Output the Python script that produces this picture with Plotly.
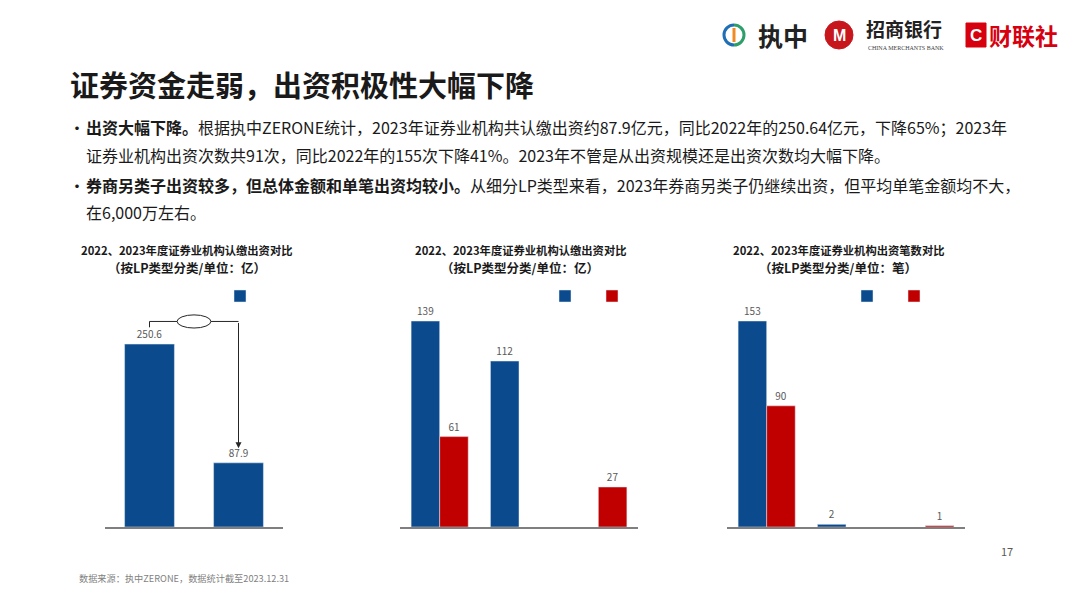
import plotly.graph_objects as go

# ---------------- data ----------------
years = ["2022年", "2023年"]
chart1_title = ["2022、2023年度证券业机构认缴出资对比", "（按LP类型分类/单位：亿）"]
chart1_values = [250.6, 87.9]

chart2_title = ["2022、2023年度证券业机构认缴出资对比", "（按LP类型分类/单位：亿）"]
lp_types = ["券商另类子", "券商直投子", "其他"]
chart2_2022 = [139, 112, None]
chart2_2023 = [61, None, 27]

chart3_title = ["2022、2023年度证券业机构出资笔数对比", "（按LP类型分类/单位：笔）"]
chart3_2022 = [153, 2, None]
chart3_2023 = [90, None, 1]

title_text = "证券资金走弱，出资积极性大幅下降"
bullet_lines = [
    ("<b>出资大幅下降。</b>根据执中ZERONE统计，2023年证券业机构共认缴出资约87.9亿元，同比2022年的250.64亿元，下降65%；2023年", True),
    ("证券业机构出资次数共91次，同比2022年的155次下降41%。2023年不管是从出资规模还是出资次数均大幅下降。", False),
    ("<b>券商另类子出资较多，但总体金额和单笔出资均较小。</b>从细分LP类型来看，2023年券商另类子仍继续出资，但平均单笔金额均不大，", True),
    ("在6,000万左右。", False),
]
source_text = "数据来源：执中ZERONE，数据统计截至2023.12.31"
page_no = "17"

BLUE = "#0B4A8C"
RED = "#C00000"
LABEL = "#595959"
FONT = "Noto Sans CJK SC"
W, H = 1080, 607


def px(x):
    return x / W


def py(y):
    return 1 - y / H


fig = go.Figure()

# ---------------- traces ----------------
fig.add_trace(go.Bar(
    x=years, y=chart1_values, name=" ", marker_color=BLUE, width=0.56,
    text=chart1_values, texttemplate="%{y:.1f}", textposition="outside",
    textfont=dict(color=LABEL, size=10, family=FONT), cliponaxis=False,
    xaxis="x", yaxis="y", legend="legend", hovertemplate="%{x}: %{y}<extra></extra>",
))

for xa, ya, lg, s22, s23 in [("x2", "y2", "legend2", chart2_2022, chart2_2023),
                             ("x3", "y3", "legend3", chart3_2022, chart3_2023)]:
    for vals, col, yr in [(s22, BLUE, years[0]), (s23, RED, years[1])]:
        fig.add_trace(go.Bar(
            x=lp_types, y=vals, name=" ", marker_color=col,
            text=vals, texttemplate="%{y}", textposition="outside",
            textfont=dict(color=LABEL, size=10, family=FONT), cliponaxis=False,
            xaxis=xa, yaxis=ya, legend=lg, offsetgroup=yr,
            hovertemplate=yr + " %{x}: %{y}<extra></extra>",
        ))

ydom = [py(527), py(300)]
axis_common = dict(showticklabels=False, ticks="", showgrid=False, zeroline=False,
                   showline=True, linecolor="#7F7F7F", linewidth=1.5, fixedrange=True)
yaxis_common = dict(visible=False, showgrid=False, zeroline=False, fixedrange=True)

leg_common = dict(orientation="h", yanchor="middle", xanchor="left", bgcolor="rgba(0,0,0,0)",
                  font=dict(size=10), entrywidth=2, traceorder="normal")

fig.update_layout(
    width=W, height=H,
    margin=dict(l=0, r=0, t=0, b=0),
    paper_bgcolor="white", plot_bgcolor="white",
    font=dict(family=FONT, color="#262626"),
    barmode="group", bargap=0.28, bargroupgap=0,
    showlegend=True,
    xaxis=dict(domain=[px(105), px(283)], **axis_common),
    xaxis2=dict(domain=[px(400), px(638)], **axis_common),
    xaxis3=dict(domain=[px(727), px(965)], **axis_common),
    yaxis=dict(domain=ydom, range=[0, 311], anchor="x", **yaxis_common),
    yaxis2=dict(domain=ydom, range=[0, 153.2], anchor="x2", **yaxis_common),
    yaxis3=dict(domain=ydom, range=[0, 168.6], anchor="x3", **yaxis_common),
    legend=dict(x=px(220), y=py(296), **leg_common),
    legend2=dict(x=px(545), y=py(296), **leg_common),
    legend3=dict(x=px(847), y=py(296), **leg_common),
)

annotations = []
shapes = []

# chart titles
for cx, lines in [(187, chart1_title), (520, chart2_title), (838, chart3_title)]:
    annotations.append(dict(x=px(cx), y=py(250), xref="paper", yref="paper", text="<b>%s</b>" % lines[0],
                            showarrow=False, font=dict(size=11.3, color="#1a1a1a"), xanchor="center", yanchor="middle"))
    annotations.append(dict(x=px(cx), y=py(267), xref="paper", yref="paper", text="<b>%s</b>" % lines[1],
                            showarrow=False, font=dict(size=12.5, color="#1a1a1a"), xanchor="center", yanchor="middle"))

# chart 1 connector: elbow line, ellipse, arrow
top_y = chart1_values[0] + 31
shapes.append(dict(type="path", xref="x", yref="y",
                   path="M 0,%f L 0,%f L 1,%f" % (chart1_values[0] + 23, top_y, top_y),
                   line=dict(color="#262626", width=1)))
shapes.append(dict(type="circle", xref="x", yref="y", x0=0.31, x1=0.69, y0=top_y - 9, y1=top_y + 9,
                   line=dict(color="#262626", width=1), fillcolor="white", layer="above"))
annotations.append(dict(x=1, y=chart1_values[1] + 20, xref="x", yref="y", ax=1, ay=top_y,
                        axref="x", ayref="y", text="", showarrow=True, arrowhead=2, arrowsize=1.2,
                        arrowwidth=1, arrowcolor="#262626", standoff=0, startstandoff=0))

# page title
annotations.append(dict(x=px(68), y=py(84), xref="paper", yref="paper", text="<b>%s</b>" % title_text,
                        showarrow=False, font=dict(size=29, color="#1a1a1a"), xanchor="left", yanchor="middle"))

# bullet text
for (txt, bullet), yy in zip(bullet_lines, [127, 155, 185, 212]):
    if bullet:
        annotations.append(dict(x=px(68), y=py(yy), xref="paper", yref="paper", text="<b>•</b>",
                                showarrow=False, font=dict(size=14, color="#1a1a1a"), xanchor="left", yanchor="middle"))
    annotations.append(dict(x=px(84), y=py(yy), xref="paper", yref="paper", text=txt,
                            showarrow=False, font=dict(size=16, color="#1a1a1a"), xanchor="left", yanchor="middle"))

# footer
annotations.append(dict(x=px(77), y=py(578), xref="paper", yref="paper", text=source_text,
                        showarrow=False, font=dict(size=9.2, color="#7F7F7F"), xanchor="left", yanchor="middle"))
annotations.append(dict(x=px(1015), y=py(551), xref="paper", yref="paper", text=page_no,
                        showarrow=False, font=dict(size=11, color="#595959"), xanchor="right", yanchor="middle"))

# ---------------- logos ----------------
k = 0.5523
cx0, cy0, r = 734, 35, 10


def arc(side):
    s = -1 if side == "left" else 1
    pts = [(cx0, cy0 - r), (cx0 + s * k * r, cy0 - r), (cx0 + s * r, cy0 - k * r), (cx0 + s * r, cy0),
           (cx0 + s * r, cy0 + k * r), (cx0 + s * k * r, cy0 + r), (cx0, cy0 + r)]
    p = [(px(a), py(b)) for a, b in pts]
    return "M %f,%f C %f,%f %f,%f %f,%f C %f,%f %f,%f %f,%f" % (
        p[0] + p[1] + p[2] + p[3] + p[4] + p[5] + p[6])


shapes.append(dict(type="path", xref="paper", yref="paper", path=arc("left"),
                   line=dict(color="#1F6FB5", width=3)))
shapes.append(dict(type="path", xref="paper", yref="paper", path=arc("right"),
                   line=dict(color="#2E9E6A", width=3)))
shapes.append(dict(type="line", xref="paper", yref="paper", x0=px(734), x1=px(734), y0=py(28), y1=py(42),
                   line=dict(color="#F08A24", width=3)))
annotations.append(dict(x=px(756), y=py(35), xref="paper", yref="paper", text="<b>执中</b>",
                        showarrow=False, font=dict(size=25, color="#222222"), xanchor="left", yanchor="middle"))

# CMB
shapes.append(dict(type="circle", xref="paper", yref="paper", x0=px(825), x1=px(853), y0=py(49), y1=py(21),
                   fillcolor="#C8161D", line=dict(color="#C8161D", width=1)))
annotations.append(dict(x=px(839), y=py(36), xref="paper", yref="paper", text="<b>M</b>",
                        showarrow=False, font=dict(size=16, color="white", family="Liberation Sans"),
                        xanchor="center", yanchor="middle"))
annotations.append(dict(x=px(864), y=py(29), xref="paper", yref="paper", text="<b>招商银行</b>",
                        showarrow=False, font=dict(size=19, color="#222222"), xanchor="left", yanchor="middle"))
annotations.append(dict(x=px(906), y=py(48), xref="paper", yref="paper", text="CHINA MERCHANTS BANK",
                        showarrow=False, font=dict(size=6, color="#444444", family="Liberation Serif"),
                        xanchor="center", yanchor="middle"))

# 财联社
shapes.append(dict(type="rect", xref="paper", yref="paper", x0=px(966), x1=px(986), y0=py(47), y1=py(23),
                   fillcolor="#D7000F", line=dict(color="#D7000F", width=1)))
annotations.append(dict(x=px(976), y=py(35), xref="paper", yref="paper", text="<b>C</b>",
                        showarrow=False, font=dict(size=17, color="white", family="Liberation Sans"),
                        xanchor="center", yanchor="middle"))
annotations.append(dict(x=px(987), y=py(35), xref="paper", yref="paper", text="<b>财联社</b>",
                        showarrow=False, font=dict(size=23, color="#D7000F"), xanchor="left", yanchor="middle"))

fig.update_layout(annotations=annotations, shapes=shapes)

fig.write_html("out.html", config={"displayModeBar": False},
               post_script="document.body.style.margin='0';")
